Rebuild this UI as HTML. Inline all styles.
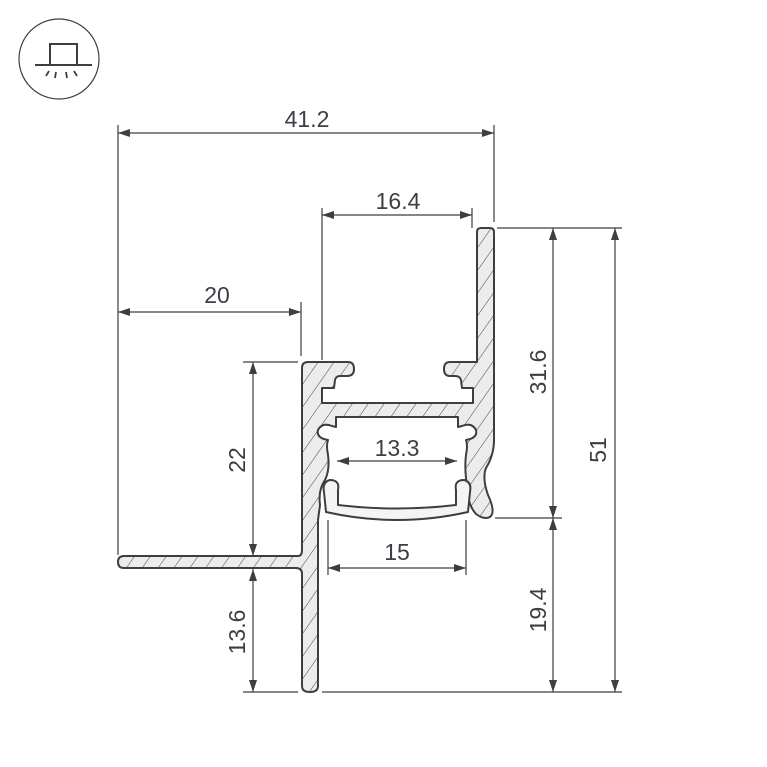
<!DOCTYPE html>
<html><head><meta charset="utf-8"><style>
html,body{margin:0;padding:0;background:#fff;}
svg{display:block;}
text{font-family:"Liberation Sans",sans-serif;font-size:23px;fill:#3a3f44;}
</style></head><body>
<svg width="767" height="767" viewBox="0 0 767 767" xmlns="http://www.w3.org/2000/svg">
<defs>
<pattern id="h" patternUnits="userSpaceOnUse" width="13" height="13" patternTransform="rotate(35)">
<rect width="13" height="13" fill="#ececec"/>
<line x1="0" y1="0" x2="0" y2="13" stroke="#444" stroke-width="1"/>
</pattern>
<marker id="a" viewBox="0 0 12 8" refX="12" refY="4" markerWidth="12" markerHeight="8" orient="auto-start-reverse" markerUnits="userSpaceOnUse">
<path d="M0,0 L12,4 L0,8 Z" fill="#3a3f44"/>
</marker>
</defs>

<circle cx="59" cy="59" r="40" fill="none" stroke="#3a3f44" stroke-width="1.2"/>
<rect x="50" y="44" width="27" height="21" fill="none" stroke="#3a3f44" stroke-width="2"/>
<line x1="35" y1="65" x2="92" y2="65" stroke="#3a3f44" stroke-width="2"/>
<g stroke="#3a3f44" stroke-width="1.8">
<line x1="49" y1="71" x2="46" y2="76"/><line x1="56" y1="72" x2="55" y2="78"/>
<line x1="66" y1="72" x2="67" y2="78"/><line x1="74" y1="71" x2="77" y2="76"/>
</g>

<path fill="url(#h)" stroke="#3a3f44" stroke-width="2" stroke-linejoin="round" d="
M124,556 L298,556 Q302,556 302,550 L302,368 Q302,362 308,362 L348,362 Q354,362 354,369 Q354,376 347,376 L340,376 Q336,376 335,380 L334,388 L322,388 L322,403 L473,403 L473,388 L462,388 L461,380 Q460,376 455,376 L450,376 Q444,376 444,369 Q444,362 450,362 L477,362 L477,232 Q477,228 481,228 L490,228 Q494,228 494,232 L494,440 Q494,455 486,468 Q482,478 488,495 Q496,512 490,517 Q484,520 476,514 Q468,505 468,492 Q464,470 466,455 Q468,445 466,440 Q478,438 476,430 Q472,422 462,426 L458,427 L458,417 L336,417 L336,427 L332,426 Q322,422 318,430 Q316,438 328,440 Q326,445 328,455 Q330,470 325,480 Q318,490 320,505 L318,520 L318,686 Q318,692 310,692 Q302,692 302,686 L302,574 Q302,568 296,568 L124,568 Q118,568 118,562 Q118,556 124,556 Z"/>
<path fill="#f4f4f4" stroke="#3a3f44" stroke-width="2" stroke-linejoin="round" d="
M324,492 Q322,482 330,480 Q340,480 338,490 L338,505 Q397,512 456,505 L456,490 Q454,480 464,480 Q472,482 470,492 L468,512 Q397,528 326,512 Z"/>

<g stroke="#3a3f44" stroke-width="1.2" fill="none">
<line x1="118" y1="125" x2="118" y2="555"/>
<line x1="494" y1="125" x2="494" y2="222"/>
<line x1="322" y1="208" x2="322" y2="360"/>
<line x1="472" y1="208" x2="472" y2="228"/>
<line x1="301" y1="302" x2="301" y2="356"/>
<line x1="243" y1="362" x2="298" y2="362"/>
<line x1="243" y1="692" x2="298" y2="692"/>
<line x1="322" y1="692" x2="622" y2="692"/>
<line x1="497" y1="228" x2="622" y2="228"/>
<line x1="495" y1="518" x2="562" y2="518"/>
<line x1="328" y1="520" x2="328" y2="575"/>
<line x1="466" y1="520" x2="466" y2="575"/>
</g>
<g stroke="#3a3f44" stroke-width="1.2" marker-start="url(#a)" marker-end="url(#a)">
<line x1="118" y1="133" x2="494" y2="133"/>
<line x1="322" y1="215" x2="472" y2="215"/>
<line x1="118" y1="312" x2="301" y2="312"/>
<line x1="253" y1="362" x2="253" y2="556"/>
<line x1="253" y1="569" x2="253" y2="692"/>
<line x1="337" y1="461" x2="457" y2="461"/>
<line x1="328" y1="568" x2="466" y2="568"/>
<line x1="553" y1="228" x2="553" y2="518"/>
<line x1="553" y1="518" x2="553" y2="692"/>
<line x1="615" y1="228" x2="615" y2="692"/>
</g>
<text x="307" y="127" text-anchor="middle">41.2</text>
<text x="398" y="209" text-anchor="middle">16.4</text>
<text x="217" y="303" text-anchor="middle">20</text>
<text x="397" y="456" text-anchor="middle">13.3</text>
<text x="397" y="560" text-anchor="middle">15</text>
<text transform="translate(245,460) rotate(-90)" text-anchor="middle">22</text>
<text transform="translate(245,632) rotate(-90)" text-anchor="middle">13.6</text>
<text transform="translate(546,372) rotate(-90)" text-anchor="middle">31.6</text>
<text transform="translate(546,610) rotate(-90)" text-anchor="middle">19.4</text>
<text transform="translate(606,450) rotate(-90)" text-anchor="middle">51</text>
</svg>
</body></html>
